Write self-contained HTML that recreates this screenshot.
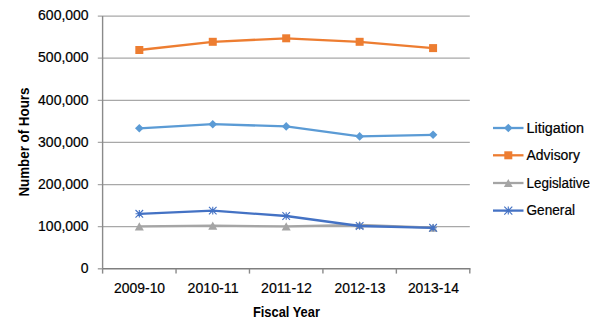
<!DOCTYPE html>
<html><head><meta charset="utf-8"><style>
html,body{margin:0;padding:0;background:#fff;width:600px;height:333px;overflow:hidden}
svg{display:block}
.t{font-family:"Liberation Sans",sans-serif;font-size:14px;fill:#000;stroke:#000;stroke-width:0.2px}
.b{font-family:"Liberation Sans",sans-serif;font-size:14px;font-weight:bold;fill:#000}
</style></head><body>
<svg width="600" height="333" viewBox="0 0 600 333"><rect width="600" height="333" fill="#fff"/><line x1="97.8" y1="16.00" x2="469.8" y2="16.00" stroke="#a8a8a8" stroke-width="1.25"/><line x1="97.8" y1="58.13" x2="469.8" y2="58.13" stroke="#a8a8a8" stroke-width="1.25"/><line x1="97.8" y1="100.27" x2="469.8" y2="100.27" stroke="#a8a8a8" stroke-width="1.25"/><line x1="97.8" y1="142.40" x2="469.8" y2="142.40" stroke="#a8a8a8" stroke-width="1.25"/><line x1="97.8" y1="184.53" x2="469.8" y2="184.53" stroke="#a8a8a8" stroke-width="1.25"/><line x1="97.8" y1="226.67" x2="469.8" y2="226.67" stroke="#a8a8a8" stroke-width="1.25"/><line x1="102.6" y1="16.0" x2="102.6" y2="268.8" stroke="#8a8a8a" stroke-width="1.4"/><line x1="97.8" y1="268.8" x2="102.6" y2="268.8" stroke="#a0a0a0" stroke-width="1.4"/><line x1="102.6" y1="268.8" x2="470.5" y2="268.8" stroke="#7f7f7f" stroke-width="1.6"/><line x1="102.60" y1="268.8" x2="102.60" y2="273.6" stroke="#8a8a8a" stroke-width="1.4"/><line x1="176.04" y1="268.8" x2="176.04" y2="273.6" stroke="#8a8a8a" stroke-width="1.4"/><line x1="249.48" y1="268.8" x2="249.48" y2="273.6" stroke="#8a8a8a" stroke-width="1.4"/><line x1="322.92" y1="268.8" x2="322.92" y2="273.6" stroke="#8a8a8a" stroke-width="1.4"/><line x1="396.36" y1="268.8" x2="396.36" y2="273.6" stroke="#8a8a8a" stroke-width="1.4"/><line x1="469.80" y1="268.8" x2="469.80" y2="273.6" stroke="#8a8a8a" stroke-width="1.4"/><text x="88.60" y="20.00" text-anchor="end" class="t" textLength="50.5" lengthAdjust="spacingAndGlyphs">600,000</text><text x="88.60" y="62.00" text-anchor="end" class="t" textLength="50.5" lengthAdjust="spacingAndGlyphs">500,000</text><text x="88.60" y="105.00" text-anchor="end" class="t" textLength="50.5" lengthAdjust="spacingAndGlyphs">400,000</text><text x="88.60" y="147.00" text-anchor="end" class="t" textLength="50.5" lengthAdjust="spacingAndGlyphs">300,000</text><text x="88.60" y="189.00" text-anchor="end" class="t" textLength="50.5" lengthAdjust="spacingAndGlyphs">200,000</text><text x="88.60" y="231.00" text-anchor="end" class="t" textLength="50.5" lengthAdjust="spacingAndGlyphs">100,000</text><text x="88.60" y="273.00" text-anchor="end" class="t">0</text><text x="139.62" y="293.40" text-anchor="middle" class="t" textLength="51" lengthAdjust="spacingAndGlyphs">2009-10</text><text x="213.06" y="293.40" text-anchor="middle" class="t" textLength="51" lengthAdjust="spacingAndGlyphs">2010-11</text><text x="286.50" y="293.40" text-anchor="middle" class="t" textLength="51" lengthAdjust="spacingAndGlyphs">2011-12</text><text x="359.94" y="293.40" text-anchor="middle" class="t" textLength="51" lengthAdjust="spacingAndGlyphs">2012-13</text><text x="433.38" y="293.40" text-anchor="middle" class="t" textLength="51" lengthAdjust="spacingAndGlyphs">2013-14</text><text x="286.40" y="317.20" text-anchor="middle" class="b" textLength="67" lengthAdjust="spacingAndGlyphs">Fiscal Year</text><text transform="translate(28.8,142.1) rotate(-90)" text-anchor="middle" class="b" textLength="109" lengthAdjust="spacingAndGlyphs">Number of Hours</text><polyline points="139.32,226.40 212.76,225.70 286.20,226.30 359.64,225.00 433.08,227.60" fill="none" stroke="#a5a5a5" stroke-width="2.3" stroke-linejoin="round"/><path d="M134.81,230.50L139.32,222.30L143.83,230.50Z" fill="#a5a5a5"/><path d="M208.25,229.80L212.76,221.60L217.27,229.80Z" fill="#a5a5a5"/><path d="M281.69,230.40L286.20,222.20L290.71,230.40Z" fill="#a5a5a5"/><path d="M355.13,229.10L359.64,220.90L364.15,229.10Z" fill="#a5a5a5"/><path d="M428.57,231.70L433.08,223.50L437.59,231.70Z" fill="#a5a5a5"/><polyline points="139.32,213.80 212.76,210.60 286.20,216.00 359.64,226.00 433.08,227.80" fill="none" stroke="#4472c4" stroke-width="2.3" stroke-linejoin="round"/><path d="M135.52,210.00L143.12,217.60M135.52,217.60L143.12,210.00M139.32,210.00L139.32,217.60M135.52,213.80L143.12,213.80" stroke="#4472c4" stroke-width="1.1" fill="none"/><path d="M208.96,206.80L216.56,214.40M208.96,214.40L216.56,206.80M212.76,206.80L212.76,214.40M208.96,210.60L216.56,210.60" stroke="#4472c4" stroke-width="1.1" fill="none"/><path d="M282.40,212.20L290.00,219.80M282.40,219.80L290.00,212.20M286.20,212.20L286.20,219.80M282.40,216.00L290.00,216.00" stroke="#4472c4" stroke-width="1.1" fill="none"/><path d="M355.84,222.20L363.44,229.80M355.84,229.80L363.44,222.20M359.64,222.20L359.64,229.80M355.84,226.00L363.44,226.00" stroke="#4472c4" stroke-width="1.1" fill="none"/><path d="M429.28,224.00L436.88,231.60M429.28,231.60L436.88,224.00M433.08,224.00L433.08,231.60M429.28,227.80L436.88,227.80" stroke="#4472c4" stroke-width="1.1" fill="none"/><polyline points="139.32,128.30 212.76,124.20 286.20,126.40 359.64,136.40 433.08,134.80" fill="none" stroke="#5b9bd5" stroke-width="2.3" stroke-linejoin="round"/><path d="M135.02,128.30L139.32,124.00L143.62,128.30L139.32,132.60Z" fill="#5b9bd5"/><path d="M208.46,124.20L212.76,119.90L217.06,124.20L212.76,128.50Z" fill="#5b9bd5"/><path d="M281.90,126.40L286.20,122.10L290.50,126.40L286.20,130.70Z" fill="#5b9bd5"/><path d="M355.34,136.40L359.64,132.10L363.94,136.40L359.64,140.70Z" fill="#5b9bd5"/><path d="M428.78,134.80L433.08,130.50L437.38,134.80L433.08,139.10Z" fill="#5b9bd5"/><polyline points="139.32,50.00 212.76,41.80 286.20,38.30 359.64,41.80 433.08,48.10" fill="none" stroke="#ed7d31" stroke-width="2.3" stroke-linejoin="round"/><rect x="135.32" y="46.00" width="8" height="8" fill="#ed7d31"/><rect x="208.76" y="37.80" width="8" height="8" fill="#ed7d31"/><rect x="282.20" y="34.30" width="8" height="8" fill="#ed7d31"/><rect x="355.64" y="37.80" width="8" height="8" fill="#ed7d31"/><rect x="429.08" y="44.10" width="8" height="8" fill="#ed7d31"/><line x1="493" y1="128" x2="523.5" y2="128" stroke="#5b9bd5" stroke-width="2.3"/><path d="M504.00,128.00L508.30,123.70L512.60,128.00L508.30,132.30Z" fill="#5b9bd5"/><text x="526.50" y="132.90" text-anchor="start" class="t" textLength="57.5" lengthAdjust="spacingAndGlyphs">Litigation</text><line x1="493" y1="155.3" x2="523.5" y2="155.3" stroke="#ed7d31" stroke-width="2.3"/><rect x="504.30" y="151.30" width="8.0" height="8.0" fill="#ed7d31"/><text x="526.50" y="160.20" text-anchor="start" class="t" textLength="53.5" lengthAdjust="spacingAndGlyphs">Advisory</text><line x1="493" y1="183" x2="523.5" y2="183" stroke="#a5a5a5" stroke-width="2.3"/><path d="M503.90,187.00L508.30,179.00L512.70,187.00Z" fill="#a5a5a5"/><text x="526.50" y="188.00" text-anchor="start" class="t" textLength="63.5" lengthAdjust="spacingAndGlyphs">Legislative</text><line x1="493" y1="210.6" x2="523.5" y2="210.6" stroke="#4472c4" stroke-width="2.3"/><path d="M504.30,206.60L512.30,214.60M504.30,214.60L512.30,206.60M508.30,206.60L508.30,214.60M504.30,210.60L512.30,210.60" stroke="#4472c4" stroke-width="1.1" fill="none"/><text x="526.50" y="215.20" text-anchor="start" class="t" textLength="48.5" lengthAdjust="spacingAndGlyphs">General</text></svg>
</body></html>
